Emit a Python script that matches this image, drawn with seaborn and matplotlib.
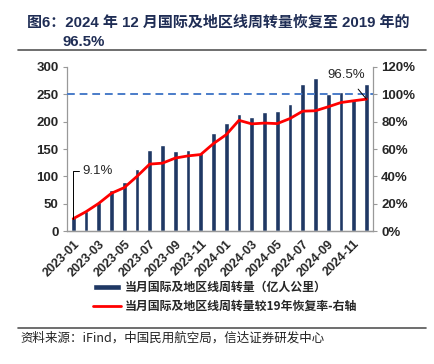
import matplotlib
matplotlib.use("Agg")
import numpy as np
import pandas as pd
import seaborn as sns
from matplotlib import pyplot as plt
from matplotlib.patches import Patch
from matplotlib.lines import Line2D

# data
months = [f"{y}-{m:02d}" for y in (2023, 2024) for m in range(1, 13)]
turnover = [25, 37, 54, 75, 89, 114, 149, 158, 147, 148, 143, 180,
            198, 214, 208, 217, 219, 233, 268, 279, 251, 255, 242, 269]
recovery = [9.1, 14.2, 20.3, 27.7, 31.8, 40.0, 49.0, 49.7, 53.4, 55.0, 56.0, 64.0,
            70.5, 81.0, 78.4, 79.0, 78.6, 82.3, 87.7, 88.0, 90.9, 94.0, 95.3, 96.5]
tick_labels = months[::2]

BAR_COLOR = "#1f3864"
LINE_COLOR = "#ff0000"
DASH_COLOR = "#4a7cc9"

sns.set_style("white")
plt.rcParams["font.family"] = ["Liberation Sans", "Noto Sans CJK SC", "DejaVu Sans"]

df = pd.DataFrame({"month": months, "turnover": turnover, "recovery": recovery})
df["pos"] = np.arange(len(df))

fig = plt.figure(figsize=(4.34, 3.64), dpi=100)
ax = fig.add_axes([0.154, 0.365, 0.705, 0.451])

sns.barplot(data=df, x="month", y="turnover", color=BAR_COLOR, width=0.38,
            saturation=1, ax=ax)
ax.set_xlim(-0.5, len(df) - 0.5)
ax.set_ylim(0, 300)
ax.set_yticks(range(0, 301, 50))
ax.set_xlabel("")
ax.set_ylabel("")

ax2 = ax.twinx()
sns.lineplot(data=df, x="pos", y="recovery", color=LINE_COLOR, linewidth=2, ax=ax2)
ax2.axhline(100, color=DASH_COLOR, linestyle=(0, (4, 2.5)), linewidth=1.4)
ax2.set_ylim(0, 120)
ax2.set_yticks(range(0, 121, 20))
ax2.set_yticklabels([f"{v}%" for v in range(0, 121, 20)])
ax2.set_xlabel("")
ax2.set_ylabel("")
ax2.set_xlim(-0.5, len(df) - 0.5)

# category labels at every 2nd month, ticks on boundaries
ax.set_xticks(range(0, len(df), 2))
ax.set_xticklabels(tick_labels, rotation=45, ha="right", rotation_mode="anchor",
                   fontsize=9, fontweight="bold")
ax.set_xticks(np.arange(-0.5, len(df), 2), minor=True)
ax.tick_params(axis="x", which="major", length=0, pad=5)
ax.tick_params(axis="x", which="minor", length=3, color="#999999", direction="out")
ax.tick_params(axis="y", length=3, color="#999999", labelsize=9.5, pad=3)
ax2.tick_params(axis="y", length=3, color="#999999", labelsize=9.5, pad=3)
for lab in ax.get_yticklabels() + ax2.get_yticklabels():
    lab.set_fontweight("bold")

for a in (ax, ax2):
    a.spines["top"].set_visible(False)
    for s in ("left", "right", "bottom"):
        a.spines[s].set_color("#999999")
        a.spines[s].set_linewidth(0.9)
ax.spines["right"].set_visible(False)
ax2.spines["left"].set_visible(False)

# annotations
ax2.annotate("9.1%", xy=(0, recovery[0]), xytext=(0.75, 44),
             fontsize=9.5, va="center", ha="left",
             arrowprops=dict(arrowstyle="-", color="black", lw=0.7,
                             connectionstyle="angle,angleA=0,angleB=90,rad=0",
                             shrinkA=0, shrinkB=0))
ax2.annotate("96.5%", xy=(23, recovery[-1]), xytext=(21.4, 114.5),
             fontsize=9.5, va="center", ha="center",
             arrowprops=dict(arrowstyle="-", color="black", lw=0.7,
                             shrinkA=5, shrinkB=0))

# legend under the chart
handles = [Patch(facecolor=BAR_COLOR), Line2D([], [], color=LINE_COLOR, lw=2)]
labels = ["当月国际及地区线周转量（亿人公里）", "当月国际及地区线周转量较19年恢复率-右轴"]
leg = fig.legend(handles, labels, loc="upper left", bbox_to_anchor=(0.215, 0.228),
                 ncol=1, frameon=False, handlelength=2.3, handleheight=0.45,
                 handletextpad=0.3, labelspacing=0.45, borderaxespad=0, borderpad=0,
                 prop={"family": ["Noto Sans CJK SC"], "weight": "bold", "size": 8.6})

# title
title_color = "#1f2d55"
fig.text(0.062, 0.937, "图6：2024 年 12 月国际及地区线周转量恢复至 2019 年的",
         fontsize=10.8, fontweight="bold", color=title_color, va="center",
         family=["Liberation Sans", "Noto Sans CJK SC"])
fig.text(0.143, 0.885, "96.5%", fontsize=10.8, fontweight="bold", color=title_color,
         va="center", family=["Liberation Sans"])
fig.add_artist(Line2D([0.041, 0.982], [0.862, 0.862], color="#555555", lw=1.2))

# source
fig.add_artist(Line2D([0.041, 0.982], [0.099, 0.099], color="#555555", lw=1.2))
fig.text(0.046, 0.071, "资料来源：iFind，中国民用航空局，信达证券研发中心",
         fontsize=9, style="italic", color="#222222", va="center",
         family=["Noto Sans CJK SC", "DejaVu Sans"])

fig.savefig("out.png", dpi=100)
